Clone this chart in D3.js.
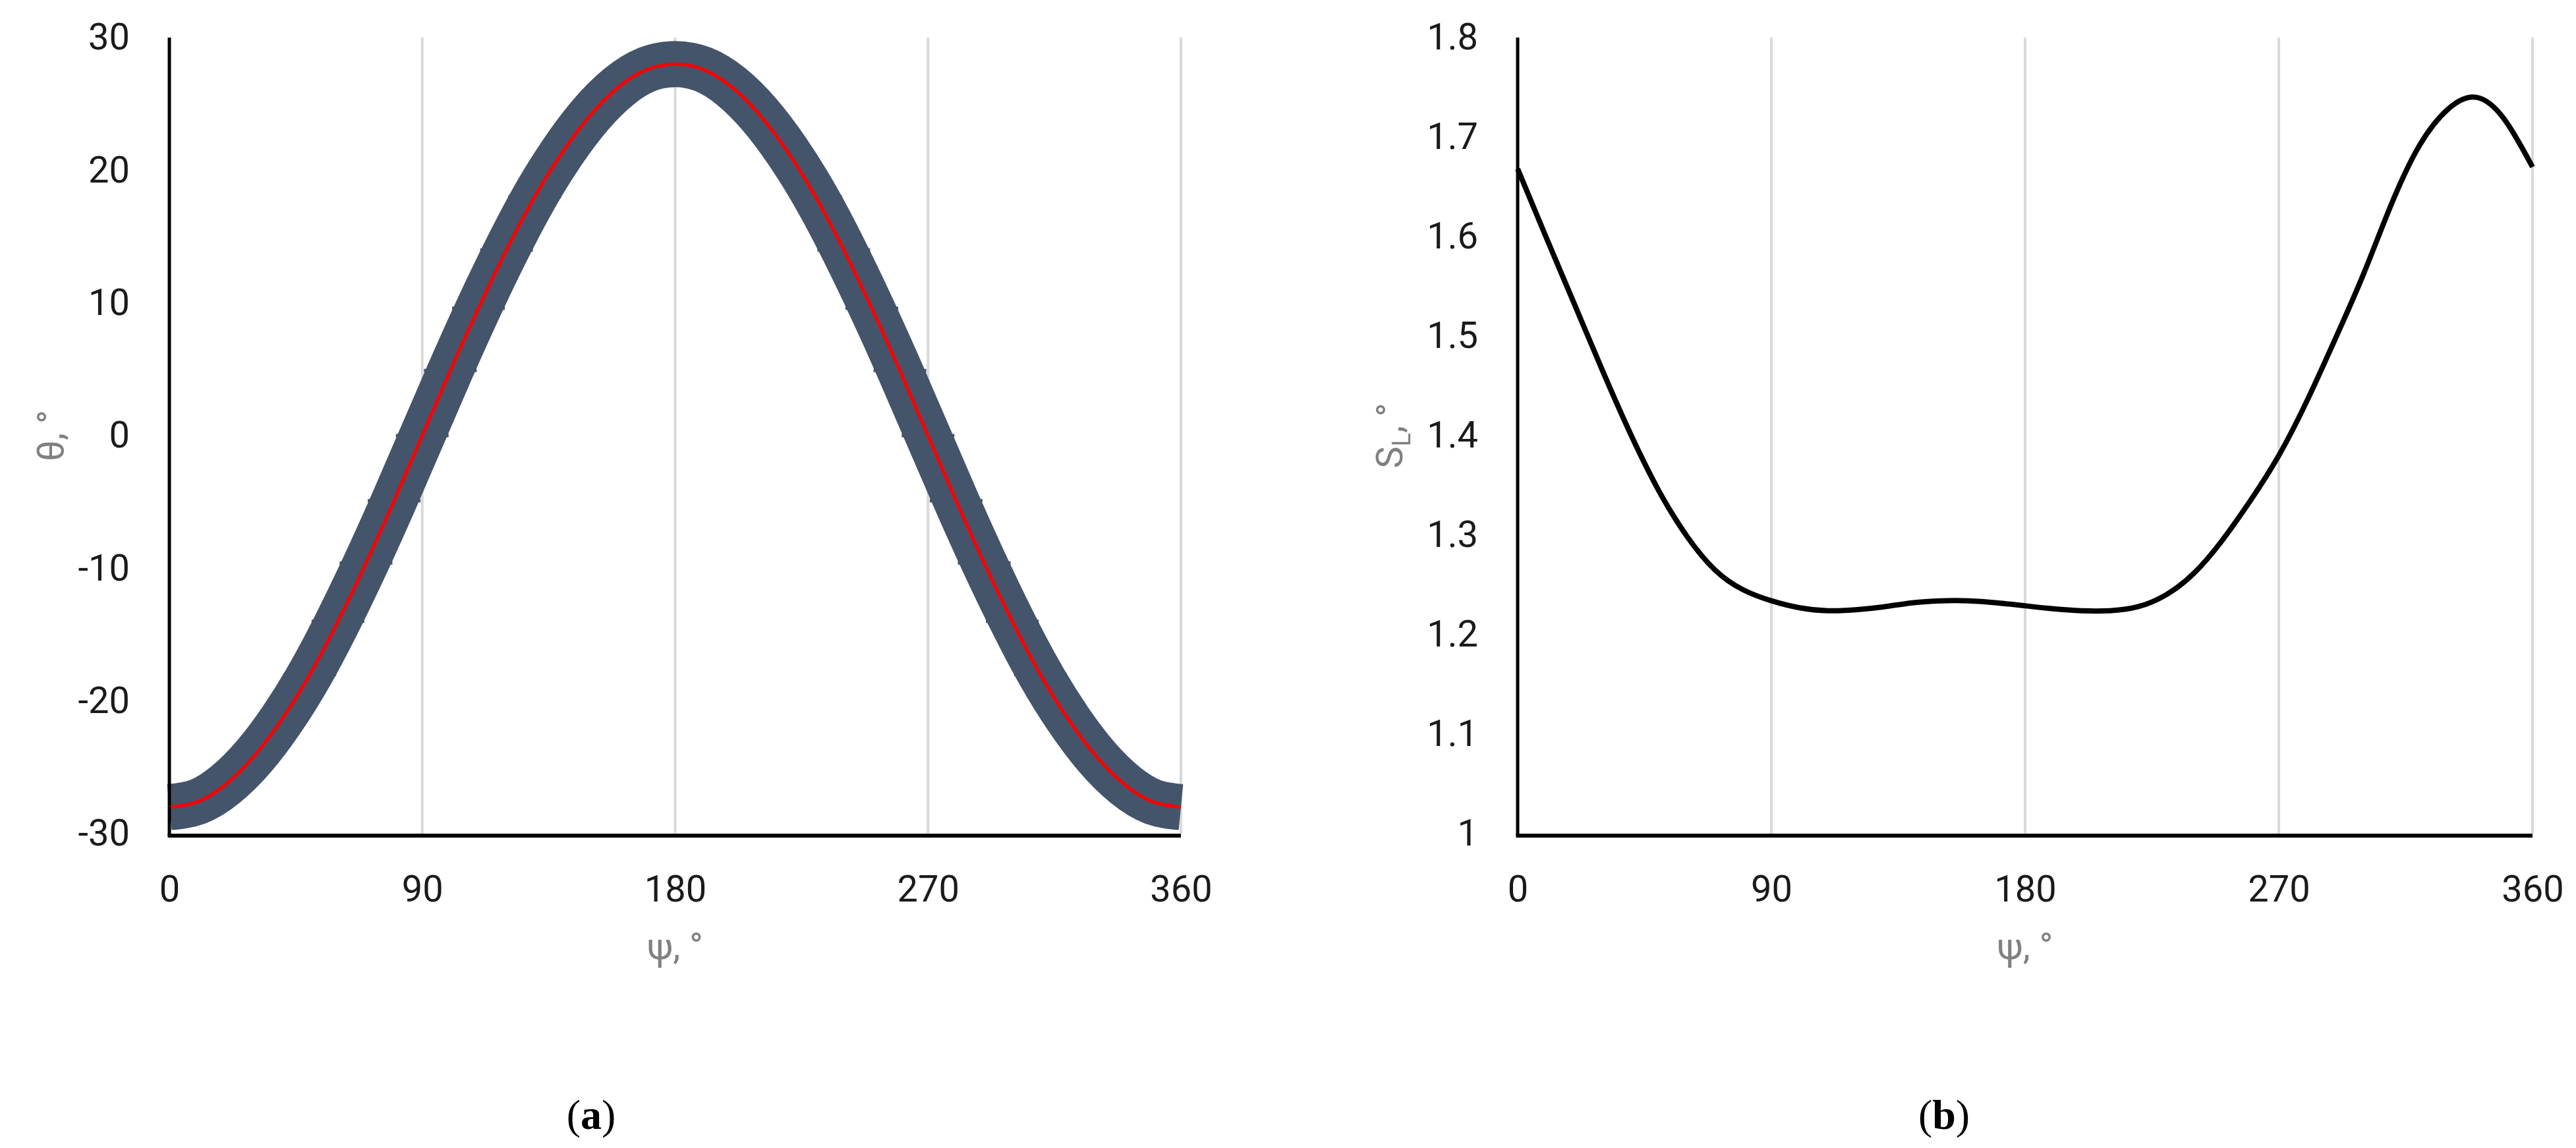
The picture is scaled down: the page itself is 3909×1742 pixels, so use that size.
<!DOCTYPE html>
<html>
<head>
<meta charset="utf-8">
<script src="https://cdn.jsdelivr.net/npm/d3@7"></script>
<style>
  html, body { margin: 0; padding: 0; background: #fff; }
  svg { display: block; }
</style>
</head>
<body>
<div id="chart"></div>
<script>
// ---------------- data ----------------
const psi = [0,10,20,30,40,50,60,70,80,90,100,110,120,130,140,150,160,170,180,
             190,200,210,220,230,240,250,260,270,280,290,300,310,320,330,340,350,360];
const theta = [-28.0,-27.6,-26.3,-24.2,-21.4,-18.0,-14.0,-9.6,-4.9,0.0,4.9,9.6,14.0,18.0,21.4,24.2,26.3,27.6,28.0,
               27.6,26.3,24.2,21.4,18.0,14.0,9.6,4.9,0.0,-4.9,-9.6,-14.0,-18.0,-21.4,-24.2,-26.3,-27.6,-28.0];
const sL = [1.668,1.600,1.533,1.466,1.402,1.345,1.299,1.265,1.245,1.234,1.227,1.224,1.225,1.228,1.232,1.234,1.234,1.232,1.229,
            1.226,1.224,1.224,1.228,1.240,1.262,1.295,1.335,1.380,1.435,1.497,1.562,1.633,1.692,1.728,1.740,1.718,1.670];
const xTicks = [0, 90, 180, 270, 360];
const thetaTicks = [-30, -20, -10, 0, 10, 20, 30];
const thetaTickLabels = ["-30", "-20", "-10", "0", "10", "20", "30"];
const sLTicks = [1.0, 1.1, 1.2, 1.3, 1.4, 1.5, 1.6, 1.7, 1.8];
const sLTickLabels = ["1", "1.1", "1.2", "1.3", "1.4", "1.5", "1.6", "1.7", "1.8"];
const panelCaptions = ["a", "b"];

// ---------------- layout ----------------
const W = 3909, H = 1742;
const plotTop = 57, plotBottom = 1265;
const tickFont = "Roboto, 'Open Sans', sans-serif";

const svg = d3.select("#chart").append("svg")
  .attr("width", W).attr("height", H)
  .attr("viewBox", `0 0 ${W} ${H}`);
svg.append("rect").attr("width", W).attr("height", H).attr("fill", "#fff");

function panel(cfg) {
  const x = d3.scaleLinear().domain([0, 360]).range([cfg.x0, cfg.x1]);
  const y = d3.scaleLinear().domain(cfg.yDomain).range([plotBottom, plotTop]);
  const g = svg.append("g");

  // vertical gridlines
  g.append("g").selectAll("line").data(xTicks.slice(1)).join("line")
    .attr("x1", d => x(d)).attr("x2", d => x(d))
    .attr("y1", plotTop).attr("y2", plotBottom)
    .attr("stroke", "#d9d9d9").attr("stroke-width", 4);

  // data
  cfg.draw(g, x, y);

  // axis lines
  g.append("line").attr("x1", x(0)).attr("x2", x(0)).attr("y1", plotTop).attr("y2", plotBottom + 3)
    .attr("stroke", "#000").attr("stroke-width", 5);
  g.append("line").attr("x1", x(0) - 2.5).attr("x2", x(360)).attr("y1", plotBottom + 3).attr("y2", plotBottom + 3)
    .attr("stroke", "#000").attr("stroke-width", 6);

  // x axis labels
  const xa = g.append("g").attr("transform", `translate(0,${plotBottom})`)
    .call(d3.axisBottom(x).tickValues(xTicks).tickSize(0).tickPadding(63).tickFormat(d => String(d)));
  xa.select(".domain").remove();
  xa.selectAll("text").attr("font-family", tickFont).attr("font-size", 56).attr("fill", "#1a1a1a");

  // y axis labels
  const ya = g.append("g").attr("transform", `translate(${x(0)},0)`)
    .call(d3.axisLeft(y).tickValues(cfg.yTicks).tickSize(0).tickPadding(60).tickFormat(cfg.yFormat));
  ya.select(".domain").remove();
  ya.selectAll("text").attr("font-family", tickFont).attr("font-size", 56).attr("fill", "#1a1a1a");

  // x title
  g.append("text").attr("x", (cfg.x0 + cfg.x1) / 2).attr("y", 1455)
    .attr("text-anchor", "middle").attr("font-family", tickFont).attr("font-size", 56)
    .attr("fill", "#808080").text("ψ, °");

  // y title
  const yt = g.append("text")
    .attr("transform", `translate(${cfg.titleX},${(plotTop + plotBottom) / 2}) rotate(-90)`)
    .attr("text-anchor", "middle").attr("font-family", tickFont).attr("font-size", 56)
    .attr("fill", "#808080");
  cfg.yTitle(yt);

  // caption
  const cap = svg.append("text").attr("x", cfg.capX).attr("y", 1713)
    .attr("text-anchor", "middle").attr("font-family", "'Liberation Serif', 'DejaVu Serif', serif")
    .attr("font-size", 64).attr("fill", "#000");
  cap.append("tspan").text("(");
  cap.append("tspan").attr("font-weight", "bold").text(cfg.caption);
  cap.append("tspan").text(")");
}

// panel (a)
panel({
  x0: 257, x1: 1792, yDomain: [-30, 30], yTicks: thetaTicks,
  yFormat: (d, i) => thetaTickLabels[i], titleX: 96, capX: 897, caption: panelCaptions[0],
  yTitle: t => t.text("θ, °"),
  draw: (g, x, y) => {
    const line = d3.line().x((d, i) => x(psi[i])).y(d => y(d)).curve(d3.curveNatural);
    g.append("path").datum(theta).attr("d", line)
      .attr("fill", "none").attr("stroke", "#44546a").attr("stroke-width", 70)
      .attr("stroke-linecap", "butt").attr("stroke-linejoin", "round");
    // error-bar caps giving a ragged edge
    g.append("g").selectAll("line").data(theta).join("line")
      .attr("x1", (d, i) => Math.max(x(0), x(psi[i]) - 40)).attr("x2", (d, i) => Math.min(x(360), x(psi[i]) + 40))
      .attr("y1", d => y(d)).attr("y2", d => y(d))
      .attr("stroke", "#44546a").attr("stroke-width", 5);
    g.append("path").datum(theta).attr("d", line)
      .attr("fill", "none").attr("stroke", "#ff0000").attr("stroke-width", 5);
  }
});

// panel (b)
panel({
  x0: 2303, x1: 3843, yDomain: [1.0, 1.8], yTicks: sLTicks,
  yFormat: (d, i) => sLTickLabels[i], titleX: 2128, capX: 2950, caption: panelCaptions[1],
  yTitle: t => {
    t.append("tspan").text("S");
    t.append("tspan").attr("font-size", 38).attr("dy", 12).text("L");
    t.append("tspan").attr("dy", -12).text(", °");
  },
  draw: (g, x, y) => {
    const line = d3.line().x((d, i) => x(psi[i])).y(d => y(d)).curve(d3.curveNatural);
    g.append("path").datum(sL).attr("d", line)
      .attr("fill", "none").attr("stroke", "#000").attr("stroke-width", 8)
      .attr("stroke-linejoin", "round");
  }
});
</script>
</body>
</html>
